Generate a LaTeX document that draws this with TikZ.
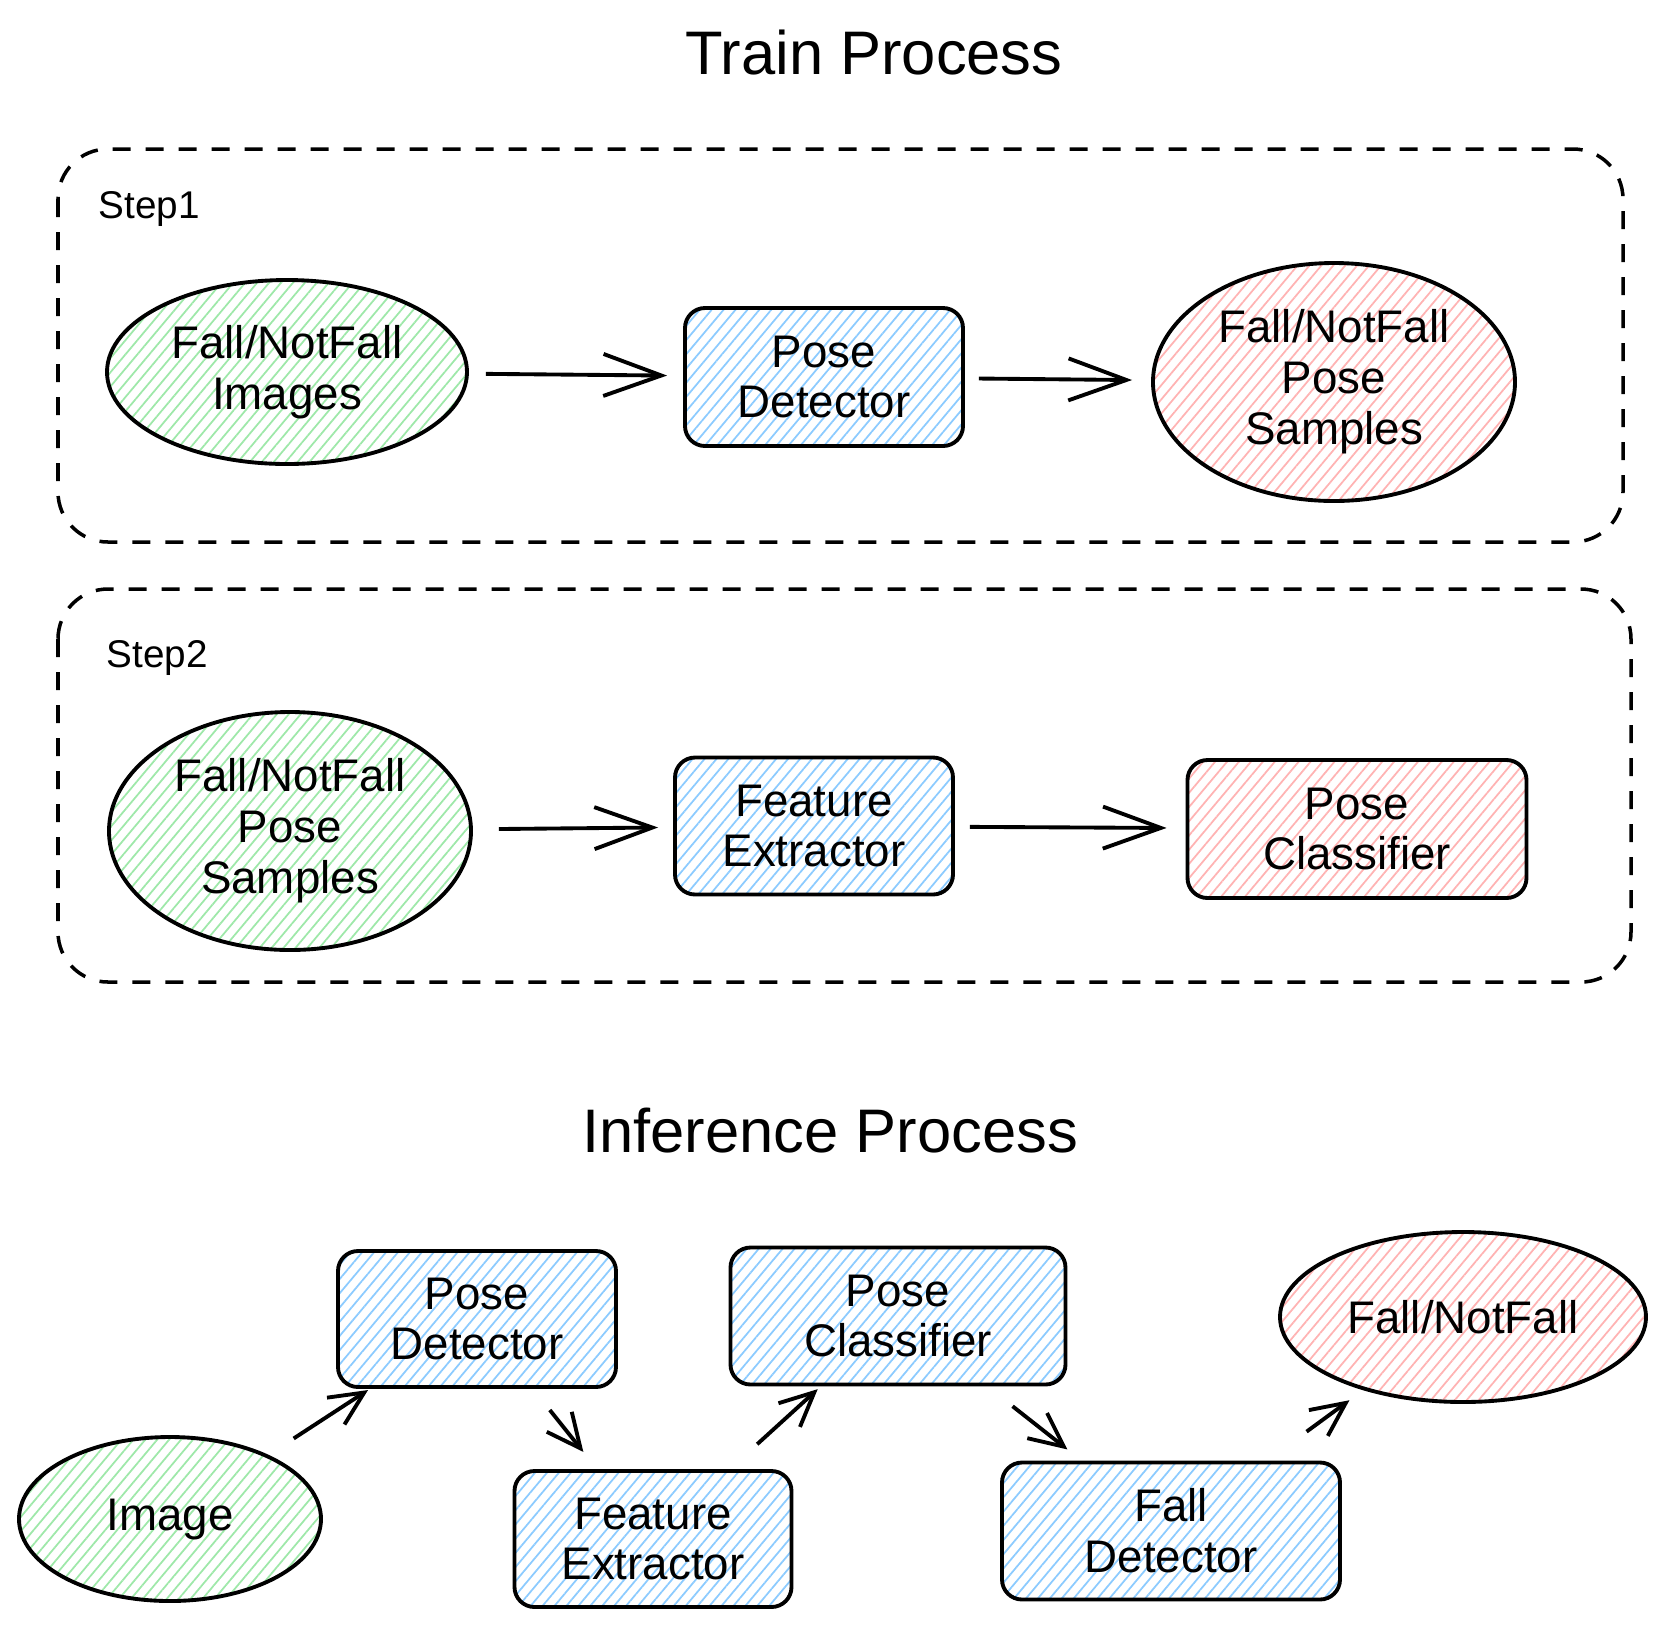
\documentclass[tikz,border=0pt]{standalone}
\usepackage{fontspec}
\setmainfont{Liberation Sans}
\usetikzlibrary{shapes.geometric,arrows.meta,patterns.meta}

\definecolor{hgreen}{HTML}{9EE8A9}
\definecolor{hblue}{HTML}{8CCBFF}
\definecolor{hpink}{HTML}{FFB3B3}

\tikzset{
  hatch/.style={pattern={Lines[angle=50,distance=2.6pt,line width=0.5pt]}, pattern color=#1},
  ell/.style={ellipse, draw, line width=1.1pt, inner sep=0pt, align=center,
    font=\fontsize{13}{14.5}\selectfont, hatch=#1},
  box/.style={rectangle, rounded corners=0.2cm, draw, line width=1.1pt, inner sep=0pt,
    align=center, font=\fontsize{13}{14.5}\selectfont, hatch=#1},
  frame/.style={draw, line width=1pt, dash pattern=on 0.18cm off 0.15cm, rounded corners=0.5cm},
  flow/.style={-{Straight Barb[length=0.58cm,width=0.42cm]}, line width=1.1pt},
  flowsmall/.style={-{Straight Barb[length=0.34cm,width=0.32cm]}, line width=1.1pt},
}

\begin{document}
\begin{tikzpicture}
    \useasboundingbox (0,0) rectangle (16.65,-16.27);

    % train process
    \node (traintitle) at (8.74,-0.53) {\fontsize{17.5}{20}\selectfont Train Process};

    \draw[frame] (0.58,-1.49) rectangle (16.23,-5.42);
    \node (stepone) at (1.49,-2.09) {\fontsize{11}{13}\selectfont Step1};

    \node[ell=hgreen, minimum width=3.60cm, minimum height=1.84cm] (images) at (2.87,-3.72) {Fall/NotFall\\Images};
    \node[box=hblue, minimum width=2.78cm, minimum height=1.38cm] (posedet) at (8.24,-3.77) {Pose\\Detector};
    \node[ell=hpink, minimum width=3.62cm, minimum height=2.38cm] (samples) at (13.34,-3.82) {Fall/NotFall\\Pose\\Samples};

    \draw[flow, shorten <=0.18cm, shorten >=0.16cm] (images) -- (posedet);
    \draw[flow, shorten <=0.14cm, shorten >=0.19cm] (posedet) -- (samples);

    \draw[frame] (0.58,-5.89) rectangle (16.31,-9.82);
    \node (steptwo) at (1.57,-6.58) {\fontsize{11}{13}\selectfont Step2};

    \node[ell=hgreen, minimum width=3.62cm, minimum height=2.38cm] (samplesin) at (2.90,-8.31) {Fall/NotFall\\Pose\\Samples};
    \node[box=hblue, minimum width=2.78cm, minimum height=1.37cm] (featext) at (8.14,-8.26) {Feature\\Extractor};
    \node[box=hpink, minimum width=3.39cm, minimum height=1.38cm] (posecls) at (13.57,-8.29) {Pose\\Classifier};

    \draw[flow, shorten <=0.26cm, shorten >=0.15cm] (samplesin) -- (featext);
    \draw[flow, shorten <=0.15cm, shorten >=0.19cm] (featext) -- (posecls);

    % inference process
    \node (infertitle) at (8.30,-11.31) {\fontsize{17.5}{20}\selectfont Inference Process};

    \node[ell=hgreen, minimum width=3.02cm, minimum height=1.64cm] (image) at (1.70,-15.19) {Image};
    \node[box=hblue, minimum width=2.78cm, minimum height=1.36cm] (posedeti) at (4.77,-13.19) {Pose\\Detector};
    \node[box=hblue, minimum width=2.77cm, minimum height=1.36cm] (featexti) at (6.53,-15.39) {Feature\\Extractor};
    \node[box=hblue, minimum width=3.35cm, minimum height=1.37cm] (posecli) at (8.98,-13.16) {Pose\\Classifier};
    \node[box=hblue, minimum width=3.38cm, minimum height=1.37cm] (falldet) at (11.71,-15.31) {Fall\\Detector};
    \node[ell=hpink, minimum width=3.66cm, minimum height=1.70cm] (result) at (14.63,-13.17) {Fall/NotFall};

    \draw[flowsmall, shorten <=0.30cm, shorten >=0.02cm] (image) -- (posedeti);
    \draw[flowsmall, shorten <=0.27cm, shorten >=0.22cm] (posedeti) -- (featexti);
    \draw[flowsmall, shorten <=0.37cm, shorten >=0.04cm] (featexti) -- (posecli);
    \draw[flowsmall, shorten <=0.32cm, shorten >=0.18cm] (posecli) -- (falldet);
    \draw[flowsmall, shorten <=0.49cm, shorten >=0.17cm] (falldet) -- (result);

\end{tikzpicture}
\end{document}
